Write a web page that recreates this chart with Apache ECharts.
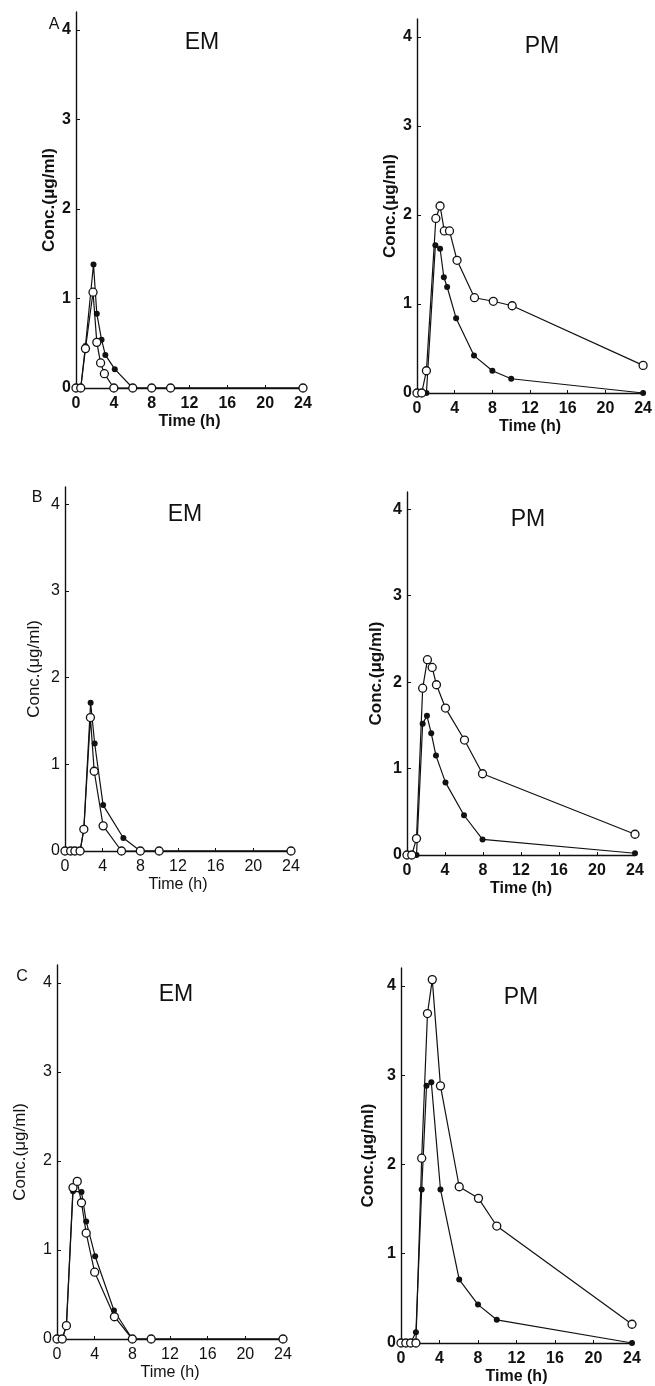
<!DOCTYPE html>
<html>
<head>
<meta charset="utf-8">
<script src="https://cdn.jsdelivr.net/npm/echarts@6/dist/echarts.min.js"></script>
<style>
html,body{margin:0;padding:0;background:#fff;}
#c{width:655px;height:1386px;}
</style>
</head>
<body>
<div id="c"></div>
<script>
// ---- tick labels / text ----
const timeTicks = [0, 4, 8, 12, 16, 20, 24];
const concTicks = [0, 1, 2, 3, 4];
const panelLetters = ['A', 'B', 'C'];
const groupTitles = ['EM', 'PM'];
const xAxisName = 'Time (h)';
const yAxisName = 'Conc.(\u03bcg/ml)';

// ---- data (time h, concentration ug/ml) ----
// Panel A, EM
const A_EM_open_t   = [0, 0.5, 1, 1.8, 2.2, 2.6, 3, 4, 6, 8, 10, 24];
const A_EM_open_c   = [0, 0, 0.44, 1.07, 0.51, 0.28, 0.16, 0, 0, 0, 0, 0];
const A_EM_filled_t = [0, 0.5, 1, 1.85, 2.2, 2.7, 3.1, 4.1, 6, 8, 10, 24];
const A_EM_filled_c = [0, 0, 0.47, 1.38, 0.83, 0.54, 0.37, 0.21, 0, 0, 0, 0];
// Panel A, PM
const A_PM_open_t   = [0, 0.5, 1, 2, 2.45, 2.9, 3.45, 4.25, 6.1, 8.1, 10.1, 24];
const A_PM_open_c   = [0, 0, 0.25, 1.96, 2.1, 1.82, 1.82, 1.49, 1.07, 1.03, 0.98, 0.31];
const A_PM_filled_t = [0, 0.5, 1, 1.95, 2.45, 2.85, 3.2, 4.15, 6.05, 8, 10, 24];
const A_PM_filled_c = [0, 0, 0, 1.66, 1.62, 1.3, 1.19, 0.84, 0.42, 0.25, 0.16, 0];
// Panel B, EM
const B_EM_open_t   = [0, 0.6, 1.05, 1.6, 2, 2.7, 3.1, 4.05, 6, 8, 10, 24];
const B_EM_open_c   = [0, 0, 0, 0, 0.25, 1.54, 0.92, 0.29, 0, 0, 0, 0];
const B_EM_filled_t = [0, 0.6, 1.05, 1.6, 2, 2.72, 3.15, 4.05, 6.2, 8, 10, 24];
const B_EM_filled_c = [0, 0, 0, 0, 0.25, 1.71, 1.24, 0.53, 0.15, 0, 0, 0];
// Panel B, PM
const B_PM_open_t   = [0, 0.5, 1, 1.65, 2.15, 2.65, 3.1, 4.05, 6.05, 7.95, 24];
const B_PM_open_c   = [0, 0, 0.19, 1.93, 2.26, 2.17, 1.97, 1.70, 1.33, 0.94, 0.24];
const B_PM_filled_t = [0, 0.5, 1, 1.65, 2.1, 2.55, 3.05, 4.05, 6, 7.95, 24];
const B_PM_filled_c = [0, 0, 0, 1.52, 1.61, 1.41, 1.15, 0.84, 0.46, 0.18, 0.02];
// Panel C, EM
const C_EM_open_t   = [0, 0.55, 1, 1.7, 2.15, 2.6, 3.1, 4, 6.1, 8, 10, 24];
const C_EM_open_c   = [0, 0, 0.15, 1.70, 1.77, 1.53, 1.19, 0.75, 0.25, 0, 0, 0];
const C_EM_filled_t = [0, 0.55, 1, 1.7, 2.6, 3.1, 4.05, 6.05, 8, 10, 24];
const C_EM_filled_c = [0, 0, 0.15, 1.66, 1.65, 1.32, 0.93, 0.32, 0, 0, 0];
// Panel C, PM
const C_PM_open_t   = [0, 0.5, 1, 1.55, 2.15, 2.75, 3.25, 4.1, 6.05, 8.05, 9.95, 24];
const C_PM_open_c   = [0, 0, 0, 0, 2.07, 3.69, 4.07, 2.88, 1.75, 1.62, 1.31, 0.21];
const C_PM_filled_t = [0, 0.5, 1, 1.55, 2.15, 2.65, 3.15, 4.1, 6.05, 8, 9.95, 24];
const C_PM_filled_c = [0, 0, 0, 0.12, 1.72, 2.88, 2.92, 1.72, 0.71, 0.43, 0.26, 0];

// ---- layout ----
const FONT = '"Liberation Sans", Arial, Helvetica, sans-serif';
const INK = '#111';
const panels = [
  {row:0, col:0, left:76,  top:12,  width:227, height:376, nameGap:17, bold:true,
   open:[A_EM_open_t, A_EM_open_c], filled:[A_EM_filled_t, A_EM_filled_c], title:[202,43]},
  {row:0, col:1, left:417, top:19,  width:230, height:374, nameGap:17, bold:true,
   open:[A_PM_open_t, A_PM_open_c], filled:[A_PM_filled_t, A_PM_filled_c], title:[542,47]},
  {row:1, col:0, left:65,  top:487, width:226, height:364, nameGap:22, bold:false,
   open:[B_EM_open_t, B_EM_open_c], filled:[B_EM_filled_t, B_EM_filled_c], title:[185,515]},
  {row:1, col:1, left:407, top:492, width:228, height:363, nameGap:22, bold:true,
   open:[B_PM_open_t, B_PM_open_c], filled:[B_PM_filled_t, B_PM_filled_c], title:[528,520]},
  {row:2, col:0, left:57,  top:965, width:226, height:374, nameGap:28, bold:false,
   open:[C_EM_open_t, C_EM_open_c], filled:[C_EM_filled_t, C_EM_filled_c], title:[176,995]},
  {row:2, col:1, left:401, top:968, width:231, height:375, nameGap:24, bold:true,
   open:[C_PM_open_t, C_PM_open_c], filled:[C_PM_filled_t, C_PM_filled_c], title:[521,998]}
];
const letterPos = [[54,25],[37,498],[22,977]];

const zip = (t, c) => t.map((v, i) => [v, c[i]]);

const grid = [], xAxis = [], yAxis = [], series = [], graphic = [];
panels.forEach((p, i) => {
  const fw = p.bold ? 'bold' : 'normal';
  grid.push({left:p.left, top:p.top, width:p.width, height:p.height, containLabel:false});
  xAxis.push({
    type:'value', gridIndex:i, min:0, max:24, interval:4,
    axisLine:{show:true, onZero:false, lineStyle:{color:INK, width:1.4}},
    axisTick:{show:true, inside:true, length:3, lineStyle:{color:INK, width:1}},
    axisLabel:{show:true, margin:8, color:INK, fontFamily:FONT, fontSize:16, fontWeight:fw,
      customValues: timeTicks},
    splitLine:{show:false},
    name:xAxisName, nameLocation:'middle', nameGap:26,
    nameTextStyle:{color:INK, fontFamily:FONT, fontSize:16, fontWeight:fw}
  });
  yAxis.push({
    type:'value', gridIndex:i, min:0, max:4.2, interval:1,
    axisLine:{show:true, onZero:false, lineStyle:{color:INK, width:1.4}},
    axisTick:{show:true, inside:true, length:4, lineStyle:{color:INK, width:1},
      customValues: concTicks},
    axisLabel:{show:true, margin:5, color:INK, fontFamily:FONT, fontSize:16, fontWeight:fw,
      customValues: concTicks},
    splitLine:{show:false},
    name:yAxisName, nameLocation:'middle', nameGap:p.nameGap, nameRotate:90,
    nameTextStyle:{color:INK, fontFamily:FONT, fontSize:17, fontWeight:fw, verticalAlign:'bottom'}
  });
  series.push({
    type:'line', xAxisIndex:i, yAxisIndex:i, data:zip(p.filled[0], p.filled[1]),
    symbol:'circle', symbolSize:6, showAllSymbol:true, clip:false, z:2,
    lineStyle:{color:INK, width:1.2}, itemStyle:{color:INK, borderColor:INK, borderWidth:0},
    emphasis:{disabled:true}, animation:false
  });
  series.push({
    type:'line', xAxisIndex:i, yAxisIndex:i, data:zip(p.open[0], p.open[1]),
    symbol:'circle', symbolSize:8, showAllSymbol:true, clip:false, z:3,
    lineStyle:{color:INK, width:1.2}, itemStyle:{color:'#fff', borderColor:INK, borderWidth:1.3},
    emphasis:{disabled:true}, animation:false
  });
  graphic.push({type:'text', x:p.title[0], y:p.title[1],
    style:{text:groupTitles[p.col], align:'center', verticalAlign:'middle',
      fontFamily:FONT, fontSize:23, fill:INK}});
});
panelLetters.forEach((L, r) => {
  graphic.push({type:'text', x:letterPos[r][0], y:letterPos[r][1],
    style:{text:L, align:'center', verticalAlign:'middle', fontFamily:FONT, fontSize:16, fill:INK}});
});

const chart = echarts.init(document.getElementById('c'), null, {renderer:'canvas'});
chart.setOption({
  backgroundColor:'#fff',
  animation:false,
  grid, xAxis, yAxis, series, graphic
});
</script>
</body>
</html>
